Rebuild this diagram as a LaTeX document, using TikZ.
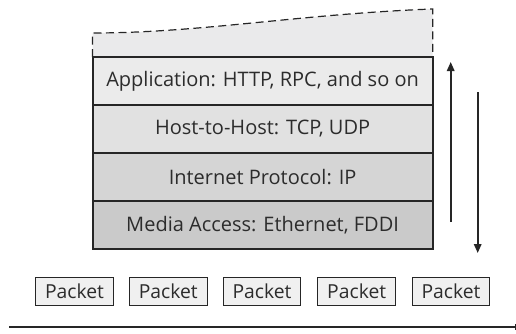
\documentclass[tikz,border=0pt]{standalone}
\usepackage{fontspec}
\setmainfont{Open Sans}
\usetikzlibrary{arrows.meta}
\definecolor{ink}{HTML}{262626}
\definecolor{txt}{HTML}{2C2C2C}
\definecolor{fillTop}{HTML}{EAEAEB}
\definecolor{fillApp}{HTML}{EBEBEB}
\definecolor{fillHost}{HTML}{E1E1E1}
\definecolor{fillIP}{HTML}{D5D5D5}
\definecolor{fillMedia}{HTML}{CACACA}
\definecolor{fillPkt}{HTML}{F0F0F0}
\tikzset{
  layer/.style={draw=ink, line width=2pt, minimum width=340.2pt, minimum height=48pt,
    inner sep=0pt, text=txt, font=\fontsize{20}{22}\selectfont},
  packet/.style={draw=ink, line width=1pt, fill=fillPkt, minimum width=77.5pt,
    minimum height=28pt, inner sep=0pt, text=txt, font=\fontsize{19.3}{22}\selectfont},
  flow/.style={draw=ink, line width=1.7pt, -{Triangle[length=9pt,width=7.5pt]}},
}
\begin{document}
\begin{tikzpicture}[x=1pt, y=-1pt]
  \useasboundingbox (0,0) rectangle (516,333);
  % open-ended upper region of the stack
  \fill[fillTop] (92.5,57) -- (92.5,33) .. controls (200,33) and (300,14) .. (432.7,9) -- (432.7,57) -- cycle;
  \draw[ink, line width=1.2pt, dash pattern=on 8pt off 4.5pt] (92.5,57) -- (92.5,33) .. controls (200,33) and (300,14) .. (432.7,9) -- (432.7,57);
  % protocol layers
  \node[layer, fill=fillApp]   (app)   at (262.6,81)  {Application: HTTP, RPC, and so on};
  \node[layer, fill=fillHost]  (host)  at (262.6,129) {Host-to-Host: TCP, UDP};
  \node[layer, fill=fillIP]    (ip)    at (262.6,177) {Internet Protocol: IP};
  \node[layer, fill=fillMedia] (media) at (262.6,225) {Media Access: Ethernet, FDDI};
  % direction of data flow through the stack
  \coordinate (upA) at (450.7,222);
  \coordinate (upB) at (450.7,62);
  \coordinate (dnA) at (477.7,92);
  \coordinate (dnB) at (477.7,253);
  \draw[flow] (upA) -- (upB);
  \draw[flow] (dnA) -- (dnB);
  % packets on the wire
  \node[packet] (p1) at (74.5,291)  {Packet};
  \node[packet] (p2) at (168.3,291) {Packet};
  \node[packet] (p3) at (262,291)   {Packet};
  \node[packet] (p4) at (356.7,291) {Packet};
  \node[packet] (p5) at (451,291)   {Packet};
  % the wire
  \coordinate (wA) at (9,327.3);
  \coordinate (wB) at (515.5,327.3);
  \draw[ink, line width=2.2pt, -{Bar[width=6pt, line width=1pt]}] (wA) -- (wB);
\end{tikzpicture}
\end{document}
